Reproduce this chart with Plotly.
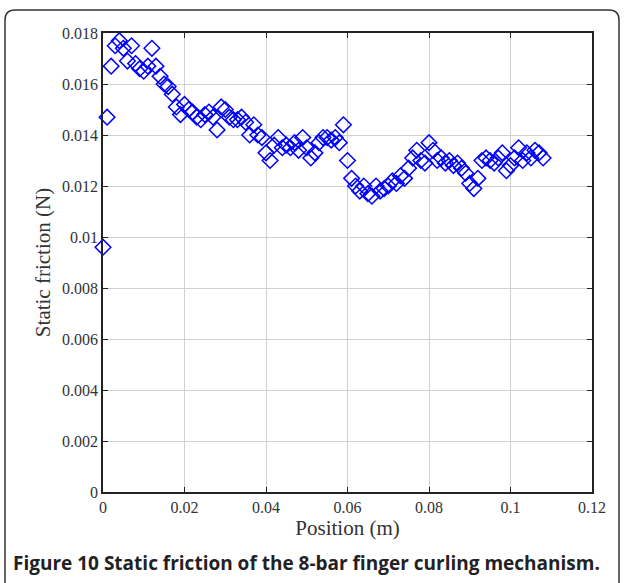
import plotly.graph_objects as go

positions = [0.000, 0.001, 0.002, 0.003, 0.004, 0.005, 0.006, 0.007, 0.008, 0.009,
             0.010, 0.011, 0.012, 0.013, 0.014, 0.015, 0.016, 0.017, 0.018, 0.019,
             0.020, 0.021, 0.022, 0.023, 0.024, 0.025, 0.026, 0.027, 0.028, 0.029,
             0.030, 0.031, 0.032, 0.033, 0.034, 0.035, 0.036, 0.037, 0.038, 0.039,
             0.040, 0.041, 0.042, 0.043, 0.044, 0.045, 0.046, 0.047, 0.048, 0.049,
             0.050, 0.051, 0.052, 0.053, 0.054, 0.055, 0.056, 0.057, 0.058, 0.059,
             0.060, 0.061, 0.062, 0.063, 0.064, 0.065, 0.066, 0.067, 0.068, 0.069,
             0.070, 0.071, 0.072, 0.073, 0.074, 0.075, 0.076, 0.077, 0.078, 0.079,
             0.080, 0.081, 0.082, 0.083, 0.084, 0.085, 0.086, 0.087, 0.088, 0.089,
             0.090, 0.091, 0.092, 0.093, 0.094, 0.095, 0.096, 0.097, 0.098, 0.099,
             0.100, 0.101, 0.102, 0.103, 0.104, 0.105, 0.106, 0.107, 0.108]

friction = [0.0096, 0.0147, 0.0167, 0.0175, 0.0177, 0.0174, 0.0169, 0.0175, 0.0168, 0.0166,
            0.0165, 0.0167, 0.0174, 0.0167, 0.0163, 0.0160, 0.0159, 0.0156, 0.0151, 0.0148,
            0.0152, 0.0150, 0.0149, 0.0147, 0.0146, 0.0148, 0.0149, 0.0147, 0.0142, 0.0151,
            0.0150, 0.0147, 0.0146, 0.0146, 0.0147, 0.0145, 0.0140, 0.0144, 0.0140, 0.0139,
            0.0133, 0.0130, 0.0136, 0.0139, 0.0135, 0.0136, 0.0135, 0.0137, 0.0134, 0.0139,
            0.0135, 0.0131, 0.0133, 0.0137, 0.0139, 0.0139, 0.0138, 0.0139, 0.0137, 0.0144,
            0.0130, 0.0123, 0.0120, 0.0118, 0.0120, 0.0117, 0.0116, 0.0120, 0.0118, 0.0119,
            0.0120, 0.0122, 0.0121, 0.0124, 0.0123, 0.0127, 0.0131, 0.0134, 0.0130, 0.0129,
            0.0137, 0.0134, 0.0130, 0.0131, 0.0129, 0.0130, 0.0128, 0.0129, 0.0127, 0.0125,
            0.0121, 0.0119, 0.0123, 0.0130, 0.0131, 0.0130, 0.0129, 0.0131, 0.0133, 0.0126,
            0.0128, 0.0131, 0.0135, 0.0130, 0.0133, 0.0131, 0.0134, 0.0133, 0.0131]

x_ticks = [0, 0.02, 0.04, 0.06, 0.08, 0.1, 0.12]
x_tick_labels = ["0", "0.02", "0.04", "0.06", "0.08", "0.1", "0.12"]
y_ticks = [0, 0.002, 0.004, 0.006, 0.008, 0.01, 0.012, 0.014, 0.016, 0.018]
y_tick_labels = ["0", "0.002", "0.004", "0.006", "0.008", "0.01", "0.012", "0.014", "0.016", "0.018"]

W, H = 624, 583
L, R, T, B = 103, 592, 33, 492

fig = go.Figure()
fig.add_trace(go.Scatter(
    x=positions, y=friction, mode="markers",
    marker=dict(symbol="diamond-open", size=12, color="#0000ff", line=dict(width=1.5, color="#0000ff")),
    showlegend=False, cliponaxis=False,
))

serif = "Liberation Serif, Times New Roman, serif"
axis_common = dict(
    showline=True, linecolor="#222", linewidth=1.5, mirror="allticks",
    ticks="inside", ticklen=5, tickwidth=1.2, tickcolor="#222",
    showgrid=True, gridcolor="#d0d0d0", gridwidth=1, zeroline=False,
    tickfont=dict(family=serif, size=16, color="#333"),
)

fig.update_layout(
    width=W, height=H,
    margin=dict(l=L, r=W - R, t=T, b=H - B),
    paper_bgcolor="white", plot_bgcolor="white",
    xaxis=dict(range=[0, 0.12], tickvals=x_ticks, ticktext=x_tick_labels,
               title=dict(text="Position (m)", font=dict(family=serif, size=21, color="#333"), standoff=4),
               **axis_common),
    yaxis=dict(range=[0, 0.018], tickvals=y_ticks, ticktext=y_tick_labels,
               title=dict(text="Static friction (N)", font=dict(family=serif, size=21, color="#333"), standoff=6),
               **axis_common),
)

def px(xp):
    return (xp - L) / (R - L)

def py(yp):
    return (B - yp) / (B - T)

# rounded frame around the figure
x0, x1, yt, yb, r = 5, 619, 10, 600, 10
path = (f"M {px(x0)},{py(yb)} L {px(x0)},{py(yt + r)} "
        f"Q {px(x0)},{py(yt)} {px(x0 + r)},{py(yt)} "
        f"L {px(x1 - r)},{py(yt)} Q {px(x1)},{py(yt)} {px(x1)},{py(yt + r)} "
        f"L {px(x1)},{py(yb)}")
fig.add_shape(type="path", path=path, xref="paper", yref="paper",
              line=dict(color="#333", width=1.5), layer="above")

fig.add_annotation(
    text="<b>Figure 10 Static friction of the 8-bar finger curling mechanism.</b>",
    xref="paper", yref="paper", x=px(11), y=py(563), xanchor="left", yanchor="middle",
    showarrow=False, font=dict(family="Open Sans, sans-serif", size=19, color="#222"),
)

fig.write_html("out.html", config={"displayModeBar": False},
               post_script="document.body.style.margin='0';document.body.style.overflow='hidden';")
